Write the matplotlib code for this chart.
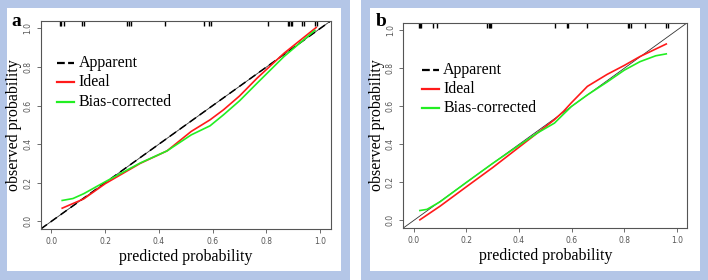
import numpy as np
import matplotlib
matplotlib.use("Agg")
import matplotlib.pyplot as plt
from matplotlib.patches import Rectangle

# panel a: calibration curves
a_ideal_x = [0.04, 0.12, 0.2, 0.33, 0.43, 0.52, 0.59, 0.64, 0.7, 0.765, 0.865, 0.985]
a_ideal_y = [0.068, 0.116, 0.195, 0.30, 0.365, 0.466, 0.526, 0.578, 0.65, 0.742, 0.871, 1.005]
a_bias_x = [0.04, 0.08, 0.12, 0.2, 0.33, 0.43, 0.52, 0.59, 0.64, 0.7, 0.765, 0.865, 0.98]
a_bias_y = [0.108, 0.118, 0.143, 0.205, 0.302, 0.365, 0.448, 0.495, 0.552, 0.625, 0.716, 0.854, 0.99]
a_rug = [0.03, 0.037, 0.045, 0.113, 0.12, 0.28, 0.29, 0.296, 0.424, 0.569, 0.585, 0.594,
         0.806, 0.879, 0.885, 0.89, 0.895, 0.932, 0.94, 0.98, 0.987]

# panel b: calibration curves
b_ideal_x = [0.023, 0.1, 0.2, 0.3, 0.4, 0.47, 0.535, 0.57, 0.6, 0.66, 0.735, 0.8, 0.86, 0.96]
b_ideal_y = [0.003, 0.075, 0.177, 0.278, 0.385, 0.46, 0.53, 0.575, 0.62, 0.705, 0.768, 0.815, 0.862, 0.928]
b_bias_x = [0.023, 0.05, 0.1, 0.2, 0.3, 0.4, 0.47, 0.535, 0.57, 0.6, 0.66, 0.735, 0.8, 0.86, 0.92, 0.96]
b_bias_y = [0.052, 0.058, 0.098, 0.2, 0.3, 0.395, 0.46, 0.512, 0.56, 0.6, 0.66, 0.728, 0.79, 0.835, 0.866, 0.876]
b_rug = [0.018, 0.022, 0.027, 0.073, 0.09, 0.28, 0.285, 0.29, 0.294, 0.536, 0.582, 0.588,
         0.658, 0.815, 0.82, 0.826, 0.88, 0.96, 0.967]

ticks = [0.0, 0.2, 0.4, 0.6, 0.8, 1.0]
tick_labels = ["0.0", "0.2", "0.4", "0.6", "0.8", "1.0"]

W, H = 708, 280
frame = "#b4c6e7"
serif = "Liberation Serif"

fig = plt.figure(figsize=(W / 100, H / 100), dpi=100)

def box(x0, y0, x1, y1, color):
    # pixel coords, origin top-left
    fig.patches.append(Rectangle((x0 / W, 1 - y1 / H), (x1 - x0) / W, (y1 - y0) / H,
                                 transform=fig.transFigure, facecolor=color,
                                 edgecolor="none", zorder=-5))

box(0, 0, 350, 280, frame)
box(7, 8, 341, 271, "white")
box(361, 0, 708, 280, frame)
box(370, 8, 700, 271, "white")

def make_axes(l, t, r, b):
    ax = fig.add_axes([l / W, 1 - b / H, (r - l) / W, (b - t) / H])
    ax.set_zorder(2)
    ax.patch.set_alpha(0)
    return ax

def panel(ax, ideal_x, ideal_y, bias_x, bias_y, rug, dashed, leg_xy, letter, letter_xy):
    ax.set_xlim(-0.04, 1.04)
    ax.set_ylim(-0.04, 1.04)
    ax.plot([-0.04, 1.04], [-0.04, 1.04], color="#333333", lw=0.6, zorder=1)
    if dashed:
        ax.plot([-0.04, 1.04], [-0.04, 1.04], color="black", lw=1.1,
                dashes=(5, 3), zorder=2)
    ax.plot(ideal_x, ideal_y, color="#ff1a1a", lw=1.2, zorder=3)
    ax.plot(bias_x, bias_y, color="#22ee22", lw=1.2, zorder=4)
    ax.vlines(rug, 1.013, 1.04, color="black", lw=1.0)

    ax.set_xticks(ticks)
    ax.set_xticklabels(tick_labels)
    ax.set_yticks(ticks)
    ax.set_yticklabels(tick_labels, rotation=90, va="center")
    ax.tick_params(labelsize=5.5, labelcolor="#555555", color="#555555",
                   length=3, width=0.6, pad=3)
    for s in ax.spines.values():
        s.set_color("#555555")
        s.set_linewidth(0.8)
    ax.set_xlabel("predicted probability", family=serif, fontsize=11.5, labelpad=2)
    ax.set_ylabel("observed probability", family=serif, fontsize=11.5)
    ax.yaxis.set_label_coords(-0.066, 0.5)

    # legend drawn by hand, R style
    lx, ly = leg_xy
    items = [("Apparent", "black", (3.5, 1.5)), ("Ideal", "#ff1a1a", None),
             ("Bias-corrected", "#22ee22", None)]
    for i, (name, col, ds) in enumerate(items):
        y = ly - i * 0.1
        kw = dict(dashes=ds) if ds else {}
        ax.plot([lx, lx + 0.065], [y, y], color=col, lw=1.6, **kw)
        ax.text(lx + 0.082, y, name, family=serif, fontsize=11.5, va="center", ha="left")

    fig.text(letter_xy[0] / W, 1 - letter_xy[1] / H, letter, family=serif,
             fontweight="bold", fontsize=14, ha="left", va="center")

ax1 = make_axes(40.7, 20.7, 331, 229)
panel(ax1, a_ideal_x, a_ideal_y, a_bias_x, a_bias_y, a_rug, True,
      (0.02, 0.82), "a", (11, 22))

ax2 = make_axes(403.3, 22.7, 687.3, 228)
panel(ax2, b_ideal_x, b_ideal_y, b_bias_x, b_bias_y, b_rug, False,
      (0.03, 0.79), "b", (376, 21))

fig.savefig("out.png", dpi=100)
